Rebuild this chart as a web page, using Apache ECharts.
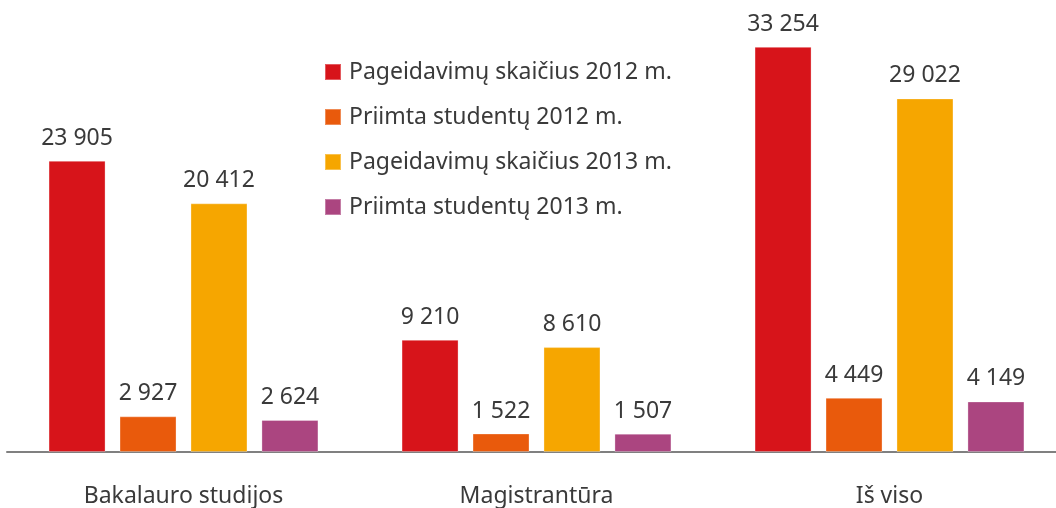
<!DOCTYPE html>
<html>
<head>
<meta charset="utf-8">
<script src="https://cdn.jsdelivr.net/npm/echarts@6/dist/echarts.min.js"></script>
<style>
  html, body { margin: 0; padding: 0; background: #fff; overflow: hidden; }
  #main { width: 1070px; height: 508px; }
</style>
</head>
<body>
<div id="main"></div>
<script>
// duomenys
const categories = ['Bakalauro studijos', 'Magistrantūra', 'Iš viso'];
const seriesNames = [
  'Pageidavimų skaičius 2012 m.',
  'Priimta studentų 2012 m.',
  'Pageidavimų skaičius 2013 m.',
  'Priimta studentų 2013 m.'
];
const wishes2012 = [23905, 9210, 33254];
const admitted2012 = [2927, 1522, 4449];
const wishes2013 = [20412, 8610, 29022];
const admitted2013 = [2624, 1507, 4149];
const colors = ['#d7141a', '#e95a0c', '#f6a600', '#ab4580'];

const font = '"Noto Sans", "Open Sans", sans-serif';
const textColor = '#3a3a3a';

function fmt(v) {
  return String(v).replace(/\B(?=(\d{3})+(?!\d))/g, ' ');
}

const myChart = echarts.init(document.getElementById('main'));

const values = [wishes2012, admitted2012, wishes2013, admitted2013];

myChart.setOption({
  animation: false,
  backgroundColor: '#fff',
  legend: {
    orient: 'vertical',
    left: 319,
    top: 55,
    itemWidth: 16,
    itemHeight: 16,
    itemGap: 21,
    icon: 'rect',
    textStyle: {
      fontFamily: font,
      fontSize: 23,
      color: textColor,
      lineHeight: 24,
      padding: [0, 0, 0, 3]
    },
    data: seriesNames
  },
  grid: {
    left: 7,
    width: 1059,
    top: 0,
    bottom: 55,
    containLabel: false
  },
  xAxis: {
    type: 'category',
    data: categories,
    axisTick: { show: false },
    axisLine: { lineStyle: { color: '#808080', width: 2 } },
    axisLabel: {
      margin: 33,
      fontFamily: font,
      fontSize: 23,
      color: textColor
    }
  },
  yAxis: {
    type: 'value',
    min: 0,
    max: 37100,
    show: false,
    splitLine: { show: false }
  },
  series: seriesNames.map((name, i) => ({
    name: name,
    type: 'bar',
    data: values[i],
    barWidth: 57,
    barGap: '24.5%',
    itemStyle: {
      color: colors[i],
      borderColor: 'rgba(255,255,255,0.3)',
      borderWidth: 1
    },
    label: {
      show: true,
      position: 'top',
      distance: 11,
      fontFamily: font,
      fontSize: 23,
      color: textColor,
      formatter: (p) => fmt(p.value)
    }
  }))
});
</script>
</body>
</html>
